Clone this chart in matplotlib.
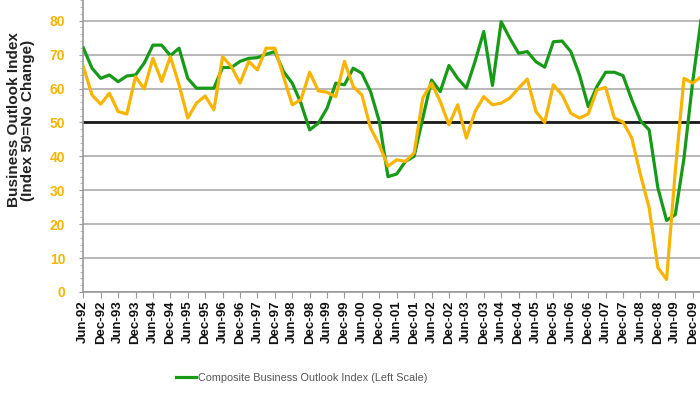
import matplotlib
matplotlib.use("Agg")
import matplotlib.pyplot as plt
from matplotlib.lines import Line2D

plt.rcParams["font.family"] = ["Liberation Sans", "DejaVu Sans"]

# quarterly readings, Jun-92 .. Mar-10 (last point falls just past the crop)
composite = [72, 66, 63, 64, 62, 63.7, 64, 67.5, 72.8, 72.8, 69.7, 71.9,
             63, 60.1, 60.1, 60.1, 66.2, 66.2, 68, 68.9, 69.1, 70.1, 70.9, 65,
             61.6, 55.7, 47.8, 49.8, 54.2, 61.6, 61.1, 66, 64.5, 59.1, 50.3, 34,
             34.8, 38.5, 40, 51.3, 62.5, 59.1, 66.8, 63, 60.1, 68, 76.8, 60.9,
             79.7, 74.8, 70.4, 70.9, 67.9, 66.3, 73.8, 74, 70.9, 64, 54.7, 60.6,
             64.8, 64.8, 63.8, 56.7, 50.5, 47.8, 30.7, 21.1, 22.8, 39.5, 62, 81]
second = [66.5, 58.1, 55.4, 58.6, 53.2, 52.5, 63.5, 59.9, 68.9, 62.1, 69.4, 61.1,
          51.3, 55.7, 57.8, 53.7, 69.4, 66.5, 61.6, 68, 65.5, 71.9, 71.9, 63.5,
          55.2, 56.7, 64.8, 59.3, 58.9, 57.6, 68, 60.6, 58.1, 48.3, 43.4, 37.1,
          39, 38.5, 41, 57.2, 61.6, 56.2, 49.3, 55.2, 45.4, 53.2, 57.6, 55.2,
          55.7, 57.2, 60.1, 62.8, 53.2, 50, 61.1, 58.1, 52.7, 51.3, 52.5, 59.6,
          60.3, 51.3, 50.1, 45.4, 34.6, 24.8, 7.2, 3.7, 35.6, 63, 61.6, 63.5]
tick_labels = ["Jun-92", "Dec-92", "Jun-93", "Dec-93", "Jun-94", "Dec-94",
               "Jun-95", "Dec-95", "Jun-96", "Dec-96", "Jun-97", "Dec-97",
               "Jun-98", "Dec-98", "Jun-99", "Dec-99", "Jun-00", "Dec-00",
               "Jun-01", "Dec-01", "Jun-02", "Dec-02", "Jun-03", "Dec-03",
               "Jun-04", "Dec-04", "Jun-05", "Dec-05", "Jun-06", "Dec-06",
               "Jun-07", "Dec-07", "Jun-08", "Dec-08", "Jun-09", "Dec-09"]

GREEN = "#179a17"
ORANGE = "#f7b400"

fig = plt.figure(figsize=(7, 3.94), dpi=100)
ax = fig.add_axes([0.119, 0.2589, 0.883, 0.7746])

x = list(range(len(composite)))
ax.plot(x, composite, color=GREEN, lw=2.3, zorder=3)
ax.plot(x, second, color=ORANGE, lw=2.3, zorder=3)

ax.set_xlim(0, 71)
ax.set_ylim(0, 90)

ax.set_yticks(range(0, 100, 10))
ax.set_yticks(range(0, 90, 2), minor=True)
ax.set_yticklabels([str(v) if v <= 80 else "" for v in range(0, 100, 10)],
                   color=ORANGE, fontsize=10, fontweight="bold")
ax.grid(axis="y", color="#b8b8b8", lw=1.4, zorder=1)
ax.axhline(50, color="#1a1a1a", lw=2.0, zorder=2)

ax.set_xticks(range(0, 2 * len(tick_labels), 2))
ax.set_xticklabels(tick_labels, rotation=90, fontsize=9.5, fontweight="bold",
                   color="#111111")

ax.tick_params(axis="y", which="major", length=3, color="#999999", pad=10)
ax.tick_params(axis="y", which="minor", length=2, color="#aaaaaa")
ax.tick_params(axis="x", length=4, color="#999999", pad=2)

for side in ("top", "right"):
    ax.spines[side].set_visible(False)
for side in ("left", "bottom"):
    ax.spines[side].set_color("#999999")
    ax.spines[side].set_linewidth(1.2)

fig.text(21 / 700, 1 - 120 / 394, "Business Outlook Index\n(Index 50=No Change)",
         rotation=90, ha="center", va="center", multialignment="center",
         fontsize=11, fontweight="bold", color="#222222", linespacing=1.0)

handle = Line2D([], [], color=GREEN, lw=2.3)
fig.legend(handles=[handle], labels=["Composite Business Outlook Index (Left Scale)"],
           loc="center", bbox_to_anchor=(302 / 700, 1 - 378 / 394), frameon=False,
           fontsize=7.8, labelcolor="#555555", handlelength=1.8, handletextpad=0.2)

fig.savefig("out.png", dpi=100)
